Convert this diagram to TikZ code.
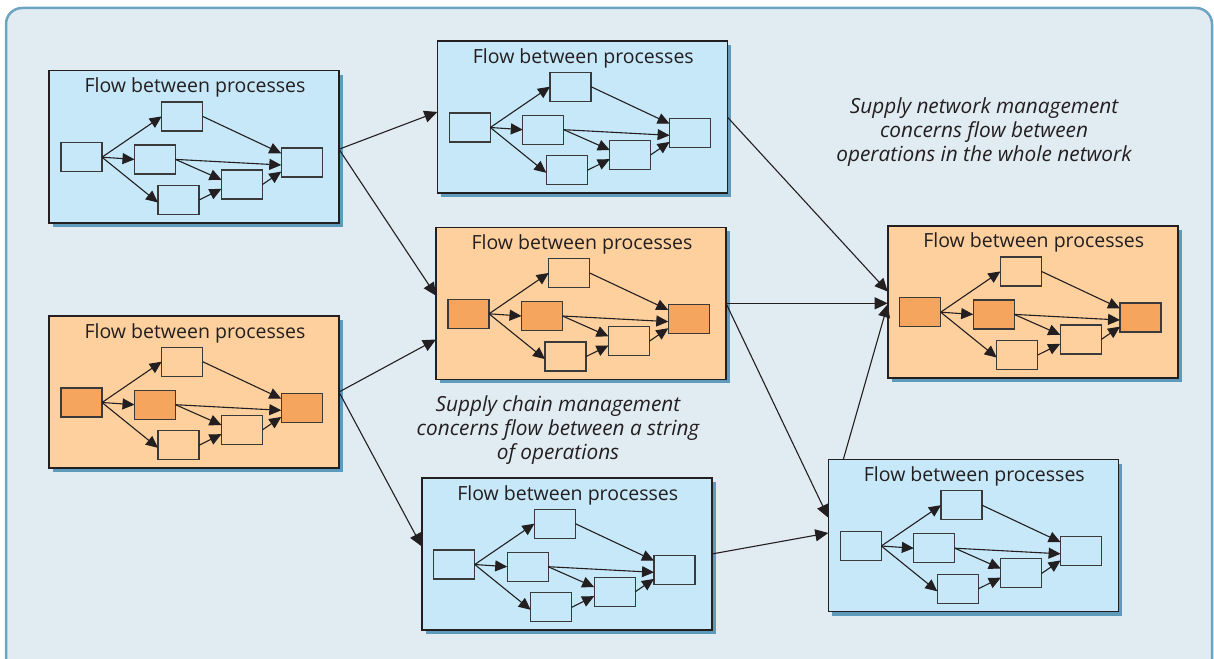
\documentclass[tikz,border=0pt]{standalone}
\usepackage{fontspec}
\setmainfont{Open Sans}
\usetikzlibrary{arrows.meta,calc}
\definecolor{bgc}{HTML}{E1EBF2}
\definecolor{framec}{HTML}{6CA4C2}
\definecolor{shadowc}{HTML}{5E9BBB}
\definecolor{bluec}{HTML}{C6E8F8}
\definecolor{orangec}{HTML}{FDD09D}
\definecolor{darkorange}{HTML}{F6A55E}
\definecolor{linec}{HTML}{231F20}
\definecolor{boxline}{HTML}{3A3A3A}
\definecolor{textc}{HTML}{231F20}
\tikzset{
  panelbox/.style={draw=linec, line width=1.6pt, minimum width=290pt, minimum height=152pt,
    inner sep=0pt, outer sep=0pt, anchor=north west},
  proc/.style={draw=boxline, line width=1.3pt, minimum width=41pt, minimum height=29pt,
    inner sep=0pt, outer sep=0pt},
  titletext/.style={text=textc, inner sep=0pt, font=\fontsize{19.5}{22}\selectfont},
  note/.style={text=textc, inner sep=0pt, align=center, font=\fontsize{20.8}{24}\selectfont\itshape},
  flow/.style={draw=linec, line width=1.1pt, -{Triangle[length=12pt,width=11pt]}},
  link/.style={draw=linec, line width=1.1pt, -{Triangle[length=13pt,width=12pt]}},
  pics/panel/.style n args={3}{code={
    \fill[shadowc] (4,4) rectangle (294,156);
    \node[panelbox, fill=#1] (-box) at (0,0) {};
    \node[titletext] (-title) at (146,17) {Flow between processes};
    \node[proc, fill=#2] (-src) at (32.5,86.5) {};
    \node[proc, fill=#3] (-mid) at (106,88.7) {};
    \node[proc, fill=#1] (-top) at (133.2,45.7) {};
    \node[proc, fill=#1] (-bot) at (129.5,129.3) {};
    \node[proc, fill=#1] (-rm) at (193,113.8) {};
    \node[proc, fill=#2] (-sink) at (252.8,91.8) {};
    \draw[flow] (-src.east) -- (-top.west);
    \draw[flow] (-src.east) -- (-mid.west);
    \draw[flow] (-src.east) -- (-bot.187);
    \draw[flow] (-top.east) -- (-sink.156);
    \draw[flow] (-mid.east) -- (-sink.187);
    \draw[flow] (-mid.east) -- (-rm.167);
    \draw[flow] (-bot.east) -- (-rm.192);
    \draw[flow] (-rm.east) -- (-sink.204);
  }}
}
\begin{document}
\begin{tikzpicture}[x=1pt,y=-1pt]
\useasboundingbox (0,0) rectangle (1214,658);
\begin{scope}
  \clip (0,0) rectangle (1214,658);
  \draw[framec, fill=bgc, line width=2.5pt, rounded corners=16pt] (6,8) rectangle (1212,720);
\end{scope}

\pic (p1) at (49,70.7) {panel={bluec}{bluec}{bluec}};
\pic (p2) at (437.3,41) {panel={bluec}{bluec}{bluec}};
\pic (p3) at (49,316) {panel={orangec}{darkorange}{darkorange}};
\pic (p4) at (436,227.3) {panel={orangec}{darkorange}{darkorange}};
\pic (p5) at (421.7,478) {panel={bluec}{bluec}{bluec}};
\pic (p6) at (887.7,225.7) {panel={orangec}{darkorange}{darkorange}};
\pic (p7) at (828.3,459.5) {panel={bluec}{bluec}{bluec}};

\node[note] (snm) at (984,132) {Supply network management\\concerns flow between\\operations in the whole network};
\node[note] (scm) at (558,430) {Supply chain management\\concerns flow between a string\\of operations};

\draw[link] (p1-box.-1) -- (p2-box.178.5);
\draw[link] (p1-box.-1) -- (p4-box.177.1);
\draw[link] (p3-box.east) -- (p4-box.194);
\draw[link] (p3-box.east) -- (p5-box.177.1);
\draw[link] (p2-box.-0.8) -- (p6-box.176.4);
\draw[link] (p4-box.east) -- (p4-box.east -| p6-box.west);
\draw[link] (p4-box.east) -- (p7-box.173.9);
\draw[link] (p5-box.east) -- (p7-box.179.1);
\coordinate (p7top) at ($(p7-box.north west)+(15,0)$);
\draw[link] (p7top) -- (p6-box.181.7);
\end{tikzpicture}
\end{document}
